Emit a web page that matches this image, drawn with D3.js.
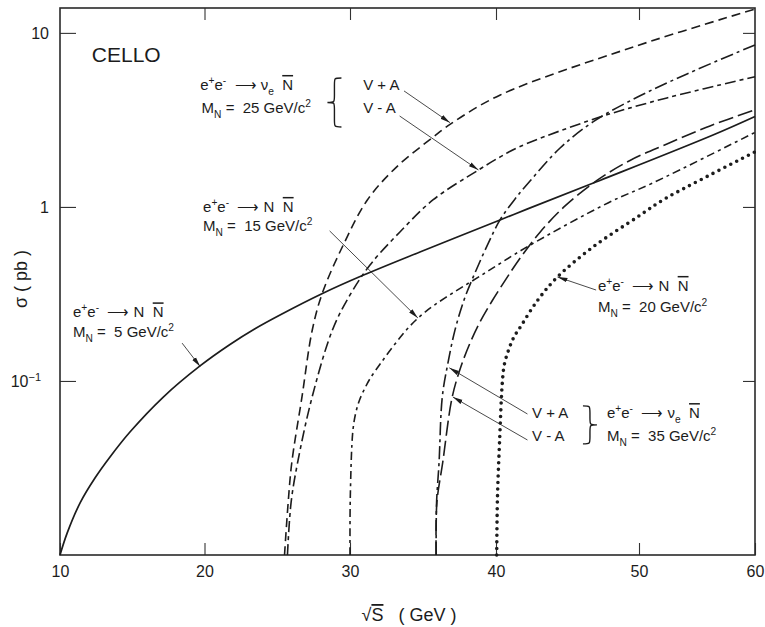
<!DOCTYPE html>
<html>
<head>
<meta charset="utf-8">
<style>
  body { margin: 0; background: #fff; }
  text { font-family: "Liberation Sans", Arial, Helvetica, sans-serif; fill: #1c1c1c; }
  .curve { fill: none; stroke: #1c1c1c; }
  .arrow { stroke: #1c1c1c; stroke-width: 0.8; }
</style>
</head>
<body>
<div id="chart"></div>
<script src="https://cdn.jsdelivr.net/npm/d3@7"></script>
<script>

// ***************
// Data  (sqrt(s) in GeV, sigma in pb)
// ***************

var xTicks = [10, 20, 30, 40, 50, 60];
var yTicks = [0.1, 1, 10];

// e+e- -> N Nbar
var nn5  = [[10,0.01],[10.5,0.0134],[11.4,0.02],[12.42,0.0277],[13.46,0.0366],[14.84,0.0509],[17.13,0.0806],
            [19.69,0.122],[21.75,0.162],[23.47,0.1995],[25.19,0.2393],[28.14,0.319],[30.89,0.4045],[34.79,0.551],
            [40.28,0.842],[42.17,0.971],[47.27,1.42],[56.38,2.59],[60,3.31]];
var nn15 = [[30.0,0.01],[30.02,0.0215],[30.2,0.052],[30.41,0.0664],[30.68,0.0788],[31.03,0.0912],[31.37,0.103],
            [32.12,0.127],[33.08,0.163],[34.11,0.207],[35.14,0.249],[36.51,0.3],[38.9,0.4],[42.17,0.589],
            [47.83,1.054],[51.2,1.374],[60,2.68]];
var nn20 = [[40.05,0.01],[40.1,0.021],[40.25,0.045],[40.45,0.1],[40.59,0.125],[40.91,0.153],[41.26,0.179],
            [41.7,0.204],[42.9,0.29],[44.3,0.396],[46.8,0.59],[49.9,0.876],[52.1,1.1],[55.3,1.43],[60,2.07]];

// e+e- -> nu_e Nbar
var nu25VpA = [[25.5,0.01],[25.75,0.02],[26.0,0.034],[26.7,0.081],[27.4,0.195],[28.1,0.32],[29.6,0.62],
               [31.2,1.1],[33.2,1.7],[35.7,2.52],[36.9,3.0],[40.3,4.4],[49.6,8.3],[60,13.7]];
var nu25VmA = [[25.7,0.01],[25.95,0.02],[26.4,0.034],[27.4,0.081],[28.8,0.197],[30.0,0.312],[31.37,0.464],
               [33.42,0.718],[35.7,1.1],[38.8,1.63],[40.3,1.94],[41.6,2.21],[47.1,3.25],[52.4,4.23],[60,5.6]];
var nu35VpA = [[35.9,0.01],[35.93,0.02],[36.1,0.034],[36.32,0.0808],[36.71,0.127],[37.19,0.196],[37.81,0.292],
               [38.56,0.418],[39.45,0.613],[40.28,0.842],[41.33,1.111],[42.38,1.41],[44.48,2.18],[46.78,3.08],
               [50.09,4.35],[54.14,5.81],[60,8.53]];
var nu35VmA = [[35.9,0.01],[35.95,0.02],[36.35,0.034],[37.0,0.0808],[37.6,0.121],[38.22,0.165],[38.9,0.218],
               [39.73,0.288],[40.63,0.377],[41.68,0.507],[43.08,0.716],[44.83,1.013],[47.06,1.42],[49.37,1.85],
               [52.41,2.3],[56.12,2.92],[60,3.61]];

// ***************
// Layout
// ***************

var W = 765, H = 627;
var fs = 15;   // annotation font size

// the scanned axis is slightly compressed above 50 GeV
var x = d3.scaleLinear().domain(xTicks).range([60, 204.5, 350, 496, 639, 755]);
var y = d3.scaleLog().domain([0.01, 13.9]).range([555, 8]);

var curves = [
  {data: nn5,     dash: null,          width: 1.7},
  {data: nu25VpA, dash: "9,5",         width: 1.6},
  {data: nu25VmA, dash: "11,4,4,4",    width: 1.6},
  {data: nn15,    dash: "8,4,3,4",     width: 1.6},
  {data: nu35VpA, dash: "13,4,3,4",    width: 1.6},
  {data: nu35VmA, dash: "15,5",        width: 1.6},
  {data: nn20,    dash: "0,6.6",       width: 3.6, cap: "round"}
];

var svg = d3.select("#chart").append("svg")
    .attr("width", W).attr("height", H);

svg.append("defs").append("marker")
    .attr("id", "head")
    .attr("markerUnits", "userSpaceOnUse")
    .attr("viewBox", "0 -3 10 6")
    .attr("refX", 10).attr("refY", 0)
    .attr("markerWidth", 10).attr("markerHeight", 6)
    .attr("orient", "auto")
  .append("path")
    .attr("d", "M0,-2.3L10,0L0,2.3Z")
    .attr("fill", "#1c1c1c");

// ---- axes (ticks point inward) ----

var axBottom = svg.append("g").attr("transform", "translate(0," + y.range()[0] + ")")
  .call(d3.axisBottom(x).tickValues(xTicks).tickSizeInner(-12).tickSizeOuter(0).tickPadding(11));
var axTop = svg.append("g").attr("transform", "translate(0," + y.range()[1] + ")")
  .call(d3.axisTop(x).tickValues([20, 30, 40, 50]).tickSizeInner(-12).tickSizeOuter(0).tickFormat(""));
var axLeft = svg.append("g").attr("transform", "translate(" + x.range()[0] + ",0)")
  .call(d3.axisLeft(y).tickValues(yTicks).tickSizeInner(-16).tickSizeOuter(0).tickPadding(11)
        .tickFormat(function(d) { return d == 0.1 ? "" : d3.format("d")(d); }));
var axRight = svg.append("g").attr("transform", "translate(" + x.range()[5] + ",0)")
  .call(d3.axisRight(y).tickValues(yTicks).tickSizeInner(-12).tickSizeOuter(0).tickFormat(""));

[axBottom, axTop, axLeft, axRight].forEach(function(a) {
  a.select(".domain").remove();
  a.selectAll("line").attr("stroke", "#333").attr("stroke-width", 1.1);
  a.selectAll("text").attr("font-size", 16).attr("fill", "#1c1c1c");
  a.attr("font-family", null).attr("font-size", null);
});

// 10^-1 label
axLeft.selectAll(".tick").filter(function(d) { return d == 0.1; }).select("text")
    .attr("dx", -8)
    .call(function(t) {
      t.append("tspan").text("10");
      t.append("tspan").attr("dy", -6).attr("font-size", 11).text("\u22121");
    });

svg.append("rect")
    .attr("x", x.range()[0]).attr("y", y.range()[1])
    .attr("width", x.range()[5] - x.range()[0])
    .attr("height", y.range()[0] - y.range()[1])
    .attr("fill", "none").attr("stroke", "#2a2a2a").attr("stroke-width", 1.6);

// axis titles
svg.append("text")
    .attr("transform", "translate(27,279) rotate(-90)")
    .attr("text-anchor", "middle").attr("font-size", 18)
    .attr("xml:space", "preserve").style("white-space", "pre")
    .text("\u03c3 ( pb )");

var xt = svg.append("text")
    .attr("x", 409).attr("y", 621)
    .attr("text-anchor", "middle").attr("font-size", 18)
    .attr("xml:space", "preserve").style("white-space", "pre");
xt.append("tspan").text("\u221a");
xt.append("tspan").style("text-decoration", "overline").text("S");
xt.append("tspan").text("   ( GeV )");

// ---- curves ----

var line = d3.line()
    .x(function(d) { return x(d[0]); })
    .y(function(d) { return y(d[1]); })
    .curve(d3.curveCatmullRom.alpha(0.5));

svg.append("g").selectAll("path")
    .data(curves)
  .enter().append("path")
    .attr("class", "curve")
    .attr("d", function(c) { return line(c.data); })
    .attr("stroke-width", function(c) { return c.width; })
    .attr("stroke-dasharray", function(c) { return c.dash; })
    .attr("stroke-linecap", function(c) { return c.cap || "butt"; });

// ***************
// Annotations
// ***************

function rich(g, px, py, parts, size) {
  var t = g.append("text").attr("x", px).attr("y", py).attr("font-size", size)
      .attr("xml:space", "preserve").style("white-space", "pre");
  var shift = 0;
  parts.forEach(function(p) {
    var kind = p[1] || "";
    var off = kind == "sup" ? -0.42 * size : kind == "sub" ? 0.32 * size : 0;
    var ts = t.append("tspan").attr("dy", off - shift).text(p[0]);
    shift = off;
    if (kind == "sup" || kind == "sub") ts.attr("font-size", size * 0.68);
    if (kind == "bar") ts.style("text-decoration", "overline");
  });
  return t;
}

var arrowGlyph = "\u27f6";
function eeNu()  { return [["e"],["+","sup"],["e"],["-","sup"],["  " + arrowGlyph + " \u03bd"],["e","sub"],["  "],["N","bar"]]; }
function eeNN()  { return [["e"],["+","sup"],["e"],["-","sup"],["  " + arrowGlyph + " N  "],["N","bar"]]; }
function mass(m) { return [["M"],["N","sub"],[" =  " + m + " GeV/c"],["2","sup"]]; }

var ann = svg.append("g");

ann.append("text").attr("x", x(12.2)).attr("y", y(6.8)).attr("font-size", 21).text("CELLO");

// 25 GeV single production
rich(ann, x(19.7), y(4.7),  eeNu(), fs);
rich(ann, x(19.8), y(3.47), mass(25), fs);
ann.append("text").attr("x", x(30.9)).attr("y", y(4.7)).attr("font-size", fs)
    .attr("xml:space", "preserve").style("white-space", "pre").text("V + A");
ann.append("text").attr("x", x(30.9)).attr("y", y(3.47)).attr("font-size", fs)
    .attr("xml:space", "preserve").style("white-space", "pre").text("V - A");

// 15 GeV pair
rich(ann, x(19.9), y(0.936), eeNN(), fs);
rich(ann, x(19.9), y(0.728), mass(15), fs);

// 5 GeV pair
rich(ann, x(10.9), y(0.232), eeNN(), fs);
rich(ann, x(10.9), y(0.179), mass(5), fs);

// 20 GeV pair
rich(ann, x(47.13), y(0.329), eeNN(), fs);
rich(ann, x(47.13), y(0.249), mass(20), fs);

// 35 GeV single production
ann.append("text").attr("x", x(42.52)).attr("y", y(0.0612)).attr("font-size", fs)
    .attr("xml:space", "preserve").style("white-space", "pre").text("V + A");
ann.append("text").attr("x", x(42.52)).attr("y", y(0.0452)).attr("font-size", fs)
    .attr("xml:space", "preserve").style("white-space", "pre").text("V - A");
rich(ann, x(47.76), y(0.0612), eeNu(), fs);
rich(ann, x(47.76), y(0.0452), mass(35), fs);

// curly braces: dir -1 = "{", +1 = "}"
function brace(cx, y0, y1, dir) {
  var w = 7, q = 7, ym = (y0 + y1) / 2;
  var tip = cx - dir * w, mid = cx, cusp = cx + dir * w;
  return "M" + tip + "," + y0 +
    "C" + mid + "," + y0 + " " + mid + "," + y0 + " " + mid + "," + (y0 + q) +
    "L" + mid + "," + (ym - q) +
    "C" + mid + "," + ym + " " + mid + "," + ym + " " + cusp + "," + ym +
    "C" + mid + "," + ym + " " + mid + "," + ym + " " + mid + "," + (ym + q) +
    "L" + mid + "," + (y1 - q) +
    "C" + mid + "," + y1 + " " + mid + "," + y1 + " " + tip + "," + y1;
}
ann.append("path").attr("d", brace(x(28.93), y(5.51), y(2.88), -1))
    .attr("fill", "none").attr("stroke", "#1c1c1c").attr("stroke-width", 1.4);
ann.append("path").attr("d", brace(x(46.57), y(0.0719), y(0.0435), 1))
    .attr("fill", "none").attr("stroke", "#1c1c1c").attr("stroke-width", 1.4);

// arrows: [tail, tip]
var arrows = [
  [[33.7, 4.64],  [36.85, 3.05]],
  [[33.4, 3.33],  [38.8, 1.63]],
  [[28.6, 0.728], [34.65, 0.23]],
  [[18.45, 0.165],[19.7, 0.121]],
  [[47.0, 0.333], [44.3, 0.396]],
  [[42.2, 0.0646],[36.8, 0.119]],
  [[42.2, 0.0458],[37.05, 0.0808]]
];

ann.selectAll(".arrow")
    .data(arrows)
  .enter().append("line")
    .attr("class", "arrow")
    .attr("x1", function(d) { return x(d[0][0]); })
    .attr("y1", function(d) { return y(d[0][1]); })
    .attr("x2", function(d) { return x(d[1][0]); })
    .attr("y2", function(d) { return y(d[1][1]); })
    .attr("marker-end", "url(#head)");

</script>
</body>
</html>
